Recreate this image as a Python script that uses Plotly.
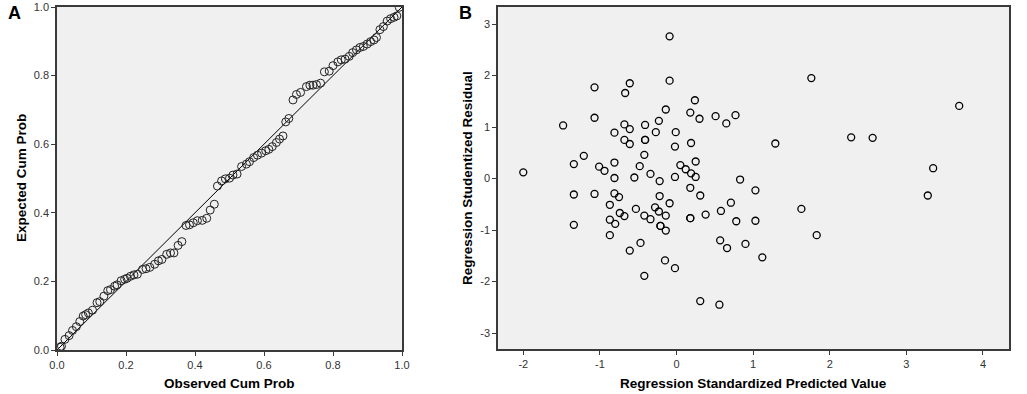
import plotly.graph_objects as go

# Panel A: P-P plot (observed vs expected cumulative probability)
obs_cum_prob = [0.009, 0.013, 0.023, 0.035, 0.045, 0.056, 0.066, 0.076, 0.083, 0.091,
                0.103, 0.116, 0.124, 0.136, 0.147, 0.155, 0.167, 0.174, 0.186, 0.196,
                0.203, 0.213, 0.223, 0.233, 0.248, 0.258, 0.269, 0.283, 0.294, 0.304,
                0.318, 0.329, 0.339, 0.351, 0.362, 0.374, 0.384, 0.395, 0.407, 0.421,
                0.434, 0.444, 0.456, 0.465, 0.477, 0.488, 0.500, 0.510, 0.522, 0.535,
                0.549, 0.558, 0.570, 0.581, 0.593, 0.605, 0.614, 0.624, 0.636, 0.645,
                0.655, 0.663, 0.672, 0.684, 0.694, 0.706, 0.723, 0.733, 0.742, 0.752,
                0.764, 0.775, 0.789, 0.800, 0.814, 0.824, 0.835, 0.847, 0.857, 0.868,
                0.878, 0.888, 0.899, 0.909, 0.919, 0.926, 0.936, 0.946, 0.957, 0.967,
                0.977, 0.985, 0.992]
exp_cum_prob = [0.008, 0.011, 0.031, 0.042, 0.057, 0.068, 0.083, 0.099, 0.103, 0.108,
                0.116, 0.138, 0.141, 0.157, 0.173, 0.176, 0.186, 0.190, 0.202, 0.206,
                0.209, 0.215, 0.219, 0.221, 0.235, 0.237, 0.241, 0.250, 0.260, 0.264,
                0.279, 0.283, 0.283, 0.305, 0.316, 0.363, 0.365, 0.371, 0.377, 0.378,
                0.384, 0.408, 0.425, 0.478, 0.493, 0.499, 0.501, 0.510, 0.513, 0.535,
                0.542, 0.549, 0.561, 0.568, 0.574, 0.581, 0.585, 0.593, 0.605, 0.615,
                0.624, 0.665, 0.675, 0.729, 0.745, 0.751, 0.768, 0.772, 0.772, 0.774,
                0.778, 0.811, 0.813, 0.829, 0.840, 0.846, 0.848, 0.856, 0.867, 0.875,
                0.882, 0.885, 0.892, 0.899, 0.904, 0.911, 0.934, 0.943, 0.959, 0.966,
                0.970, 0.974, 0.999]
ref_line = [0.0, 1.0]

# Panel B: residual scatter
pred_std = [-2.00, -1.48, -1.34, -1.21, -1.34, -1.34, -1.07, -1.07, -1.01, -0.94,
            -1.07, -0.87, -0.87, -0.87, -0.81, -0.81, -0.81, -0.81, -0.75, -0.80,
            -0.74, -0.68, -0.68, -0.68, -0.67, -0.61, -0.61, -0.61, -0.61, -0.55,
            -0.53, -0.48, -0.47, -0.42, -0.41, -0.41, -0.41, -0.42, -0.42, -0.34,
            -0.34, -0.28, -0.27, -0.23, -0.23, -0.22, -0.22, -0.21, -0.21, -0.14,
            -0.14, -0.14, -0.15, -0.09, -0.09, -0.09, -0.01, -0.02, -0.02, -0.02,
            0.05, 0.12, 0.18, 0.19, 0.19, 0.18, 0.18, 0.18, 0.24, 0.25,
            0.25, 0.30, 0.31, 0.31, 0.38, 0.51, 0.57, 0.56, 0.58, 0.65,
            0.66, 0.71, 0.77, 0.78, 0.83, 0.90, 1.03, 1.03, 1.12, 1.29,
            1.63, 1.76, 1.83, 2.28, 2.56, 3.28, 3.35, 3.69]
stud_resid = [0.12, 1.03, 0.28, 0.44, -0.31, -0.90, 1.77, 1.18, 0.23, 0.15,
              -0.30, -0.51, -0.80, -1.10, 0.89, 0.31, 0.01, -0.29, -0.36, -0.88,
              -0.67, -0.73, 1.05, 0.75, 1.66, 1.85, 0.96, 0.67, -1.40, 0.02,
              -0.59, 0.24, -1.25, 0.46, 1.04, 0.75, 0.75, -0.72, -1.89, 0.09,
              -0.79, -0.56, 0.90, -0.64, 1.12, -0.05, -0.34, -0.92, -0.92, 1.34,
              -0.72, -1.01, -1.59, 2.76, 1.90, -0.48, 0.90, 0.62, 0.03, -1.74,
              0.26, 0.18, 1.28, 0.69, 0.10, -0.18, -0.77, -0.77, 1.52, 0.33,
              0.03, 1.16, -0.33, -2.38, -0.70, 1.21, -1.20, -2.45, -0.63, 1.07,
              -1.35, -0.47, 1.23, -0.83, -0.02, -1.27, -0.23, -0.82, -1.53, 0.68,
              -0.59, 1.95, -1.10, 0.80, 0.79, -0.33, 0.20, 1.41]

a_ticks = [0.0, 0.2, 0.4, 0.6, 0.8, 1.0]
a_ticklabels = ["0.0", "0.2", "0.4", "0.6", "0.8", "1.0"]
b_xticks = [-2, -1, 0, 1, 2, 3, 4]
b_xticklabels = ["-2", "-1", "0", "1", "2", "3", "4"]
b_yticks = [-3, -2, -1, 0, 1, 2, 3]
b_yticklabels = ["-3", "-2", "-1", "0", "1", "2", "3"]

W, H = 1027, 394
FONT = "Liberation Sans, Arial, sans-serif"

def px_x(p):
    return p / W

def px_y(p):
    return 1 - p / H

fig = go.Figure()
fig.add_trace(go.Scatter(x=ref_line, y=ref_line, mode="lines",
                         line=dict(color="black", width=1), xaxis="x", yaxis="y",
                         hoverinfo="skip", showlegend=False))
fig.add_trace(go.Scatter(x=obs_cum_prob, y=exp_cum_prob, mode="markers",
                         marker=dict(symbol="circle-open", size=8, color="#222",
                                     line=dict(width=1, color="#222")),
                         xaxis="x", yaxis="y", showlegend=False))
fig.add_trace(go.Scatter(x=pred_std, y=stud_resid, mode="markers",
                         marker=dict(symbol="circle-open", size=7, color="black",
                                     line=dict(width=1.3, color="black")),
                         xaxis="x2", yaxis="y2", showlegend=False))

axis_common = dict(showgrid=False, zeroline=False, showline=True, linecolor="#3a3a3a",
                   linewidth=1.5, mirror=True, ticks="outside", ticklen=4,
                   tickcolor="#3a3a3a", automargin=False, tickmode="array",
                   tickfont=dict(family=FONT, size=11, color="#333"))

def label(text, x, y, size, angle=0):
    return dict(text=text, x=px_x(x), y=px_y(y), xref="paper", yref="paper",
                xanchor="center", yanchor="middle", showarrow=False, textangle=angle,
                font=dict(family=FONT, size=size, color="black"))

fig.update_layout(
    width=W, height=H,
    margin=dict(l=0, r=0, t=0, b=0, pad=0),
    paper_bgcolor="white",
    plot_bgcolor="#f0f0f0",
    showlegend=False,
    xaxis=dict(domain=[px_x(57), px_x(402)], range=[0, 1], tickvals=a_ticks,
               ticktext=a_ticklabels, anchor="y", **axis_common),
    yaxis=dict(domain=[px_y(350), px_y(7)], range=[0, 1], tickvals=a_ticks,
               ticktext=a_ticklabels, anchor="x", **axis_common),
    xaxis2=dict(domain=[px_x(498), px_x(1009)], range=[-2.33, 4.34], tickvals=b_xticks,
                ticktext=b_xticklabels, anchor="y2", **axis_common),
    yaxis2=dict(domain=[px_y(349), px_y(7)], range=[-3.31, 3.33], tickvals=b_yticks,
                ticktext=b_yticklabels, anchor="x2", **axis_common),
    annotations=[
        label("<b>A</b>", 14, 13, 18),
        label("<b>B</b>", 465, 13, 18),
        label("<b>Observed Cum Prob</b>", 229, 383, 13.5),
        label("<b>Expected Cum Prob</b>", 21, 178, 13.5, -90),
        label("<b>Regression Standardized Predicted Value</b>", 753, 383, 13.5),
        label("<b>Regression Studentized Residual</b>", 467, 178, 13.5, -90),
    ],
)

fig.write_html("out.html", config={"displayModeBar": False},
               post_script="document.body.style.margin='0';document.body.style.padding='0';")
